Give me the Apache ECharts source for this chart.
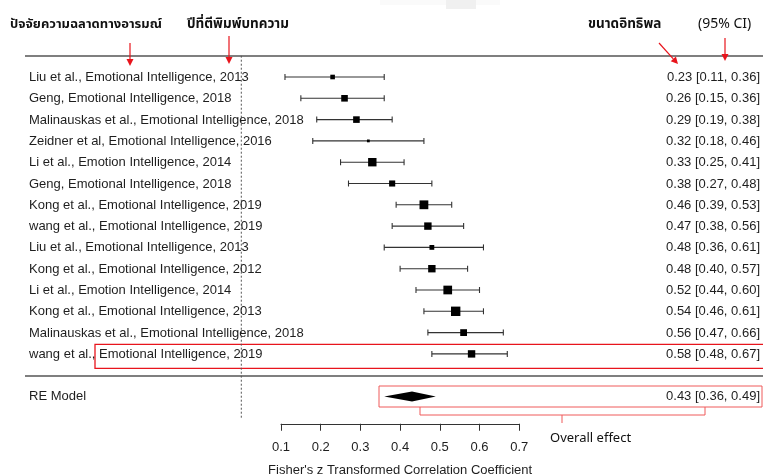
<!DOCTYPE html>
<html>
<head>
<meta charset="utf-8">
<script src="https://cdn.jsdelivr.net/npm/echarts@6/dist/echarts.min.js"></script>
<style>html,body{margin:0;padding:0;background:#fff;}#c{width:763px;height:474px;}</style>
</head>
<body>
<div id="c"></div>
<script>
// ---- data ----
const studies = [
  'Liu et al., Emotional Intelligence, 2013',
  'Geng, Emotional Intelligence, 2018',
  'Malinauskas et al., Emotional Intelligence, 2018',
  'Zeidner et al, Emotional Intelligence, 2016',
  'Li et al., Emotion Intelligence, 2014',
  'Geng, Emotional Intelligence, 2018',
  'Kong et al., Emotional Intelligence, 2019',
  'wang et al., Emotional Intelligence, 2019',
  'Liu et al., Emotional Intelligence, 2013',
  'Kong et al., Emotional Intelligence, 2012',
  'Li et al., Emotion Intelligence, 2014',
  'Kong et al., Emotional Intelligence, 2013',
  'Malinauskas et al., Emotional Intelligence, 2018',
  'wang et al., Emotional Intelligence, 2019'
];
const est = [0.23, 0.26, 0.29, 0.32, 0.33, 0.38, 0.46, 0.47, 0.48, 0.48, 0.52, 0.54, 0.56, 0.58];
const lo  = [0.11, 0.15, 0.19, 0.18, 0.25, 0.27, 0.39, 0.38, 0.36, 0.40, 0.44, 0.46, 0.47, 0.48];
const hi  = [0.36, 0.36, 0.38, 0.46, 0.41, 0.48, 0.53, 0.56, 0.61, 0.57, 0.60, 0.61, 0.66, 0.67];
const weights = [4.6, 6.6, 6.6, 2.8, 8.4, 6.1, 8.8, 7.4, 4.8, 7.4, 8.7, 9.4, 6.8, 7.4];
const pooledLabel = 'RE Model';
const pooledEst = [0.43];
const pooledLo = [0.36];
const pooledHi = [0.49];
const xTicks = [0.1, 0.2, 0.3, 0.4, 0.5, 0.6, 0.7];
const axisTitle = "Fisher's z Transformed Correlation Coefficient";

const fmt = v => v.toFixed(2);
const txtColor = '#1e1e1e';
const lineColor = '#333';
const FONT = 'Arial, "Liberation Sans", Helvetica, sans-serif';
const THAI = '"Noto Sans Thai", Tahoma, "Noto Sans", sans-serif';

const rows = studies.map((s, i) => [est[i], lo[i], hi[i], i, weights[i]]);
const pooledRow = 15;

function renderStudy(params, api) {
  const i = api.value(3);
  const pE = api.coord([api.value(0), i]);
  const pL = api.coord([api.value(1), i]);
  const pH = api.coord([api.value(2), i]);
  const s = api.value(4);
  const y = pE[1];
  const st = {stroke: lineColor, lineWidth: 1.1};
  return {
    type: 'group',
    children: [
      {type: 'line', shape: {x1: pL[0], y1: y, x2: pH[0], y2: y}, style: st},
      {type: 'line', shape: {x1: pL[0], y1: y - 3, x2: pL[0], y2: y + 3}, style: st},
      {type: 'line', shape: {x1: pH[0], y1: y - 3, x2: pH[0], y2: y + 3}, style: st},
      {type: 'rect', shape: {x: pE[0] - s / 2, y: y - s / 2, width: s, height: s}, style: {fill: '#000'}},
      {type: 'text', x: 29, y: y + 0.5, style: {text: studies[i], fill: txtColor, font: '13px ' + FONT, textVerticalAlign: 'middle', textAlign: 'left'}},
      {type: 'text', x: 760, y: y + 0.5, style: {text: fmt(est[i]) + ' [' + fmt(lo[i]) + ', ' + fmt(hi[i]) + ']', fill: txtColor, font: '13px ' + FONT, textVerticalAlign: 'middle', textAlign: 'right'}}
    ]
  };
}

function renderPooled(params, api) {
  const e = api.value(0), l = api.value(1), h = api.value(2);
  const pE = api.coord([e, pooledRow]);
  const pL = api.coord([l, pooledRow]);
  const pH = api.coord([h, pooledRow]);
  const y = pE[1];
  return {
    type: 'group',
    children: [
      {type: 'polygon', shape: {points: [[pL[0], y], [pE[0], y - 5], [pH[0], y], [pE[0], y + 5]]}, style: {fill: '#000'}},
      {type: 'text', x: 29, y: y, style: {text: pooledLabel, fill: txtColor, font: '13px ' + FONT, textVerticalAlign: 'middle'}},
      {type: 'text', x: 760, y: y, style: {text: fmt(e) + ' [' + fmt(l) + ', ' + fmt(h) + ']', fill: txtColor, font: '13px ' + FONT, textVerticalAlign: 'middle', textAlign: 'right'}}
    ]
  };
}

function arrow(x1, y1, x2, y2) {
  const ang = Math.atan2(y2 - y1, x2 - x1);
  const L = 7, W = 3.5;
  const bx = x2 - L * Math.cos(ang), by = y2 - L * Math.sin(ang);
  const nx = -Math.sin(ang), ny = Math.cos(ang);
  return [
    {type: 'line', shape: {x1: x1, y1: y1, x2: bx, y2: by}, style: {stroke: '#e8141c', lineWidth: 1.2}},
    {type: 'polygon', shape: {points: [[x2, y2], [bx + nx * W, by + ny * W], [bx - nx * W, by - ny * W]]}, style: {fill: '#e8141c'}}
  ];
}

const chart = echarts.init(document.getElementById('c'), null, {renderer: 'canvas'});
const option = {
  animation: false,
  backgroundColor: '#fff',
  grid: [
    {left: 241.3, right: 5.6, top: 55.7, height: 362.1},
    {left: 281.0, width: 238.2, top: 423.5, height: 1}
  ],
  xAxis: [
    {gridIndex: 0, type: 'value', min: 0, max: 1.3, show: false},
    {gridIndex: 1, type: 'value', min: xTicks[0], max: xTicks[xTicks.length - 1], interval: 0.1,
     axisLine: {lineStyle: {color: lineColor, width: 1}},
     axisTick: {length: 7, inside: false, lineStyle: {color: lineColor}},
     splitLine: {show: false},
     axisLabel: {margin: 17.5, color: txtColor, fontSize: 13, fontFamily: FONT, formatter: v => v.toFixed(1)},
     name: axisTitle, nameLocation: 'middle', nameGap: 40.5,
     nameTextStyle: {color: txtColor, fontSize: 13, fontFamily: FONT}}
  ],
  yAxis: [
    {gridIndex: 0, type: 'value', min: -1, max: 16, inverse: true, show: false},
    {gridIndex: 1, type: 'value', show: false}
  ],
  series: [
    {type: 'line', xAxisIndex: 0, yAxisIndex: 0, data: [[0, -1], [0, 16.23]], symbol: 'none',
     lineStyle: {color: '#555', width: 1, type: [2, 2]}, silent: true, z: 1},
    {type: 'custom', xAxisIndex: 0, yAxisIndex: 0, data: rows, renderItem: renderStudy, clip: false, z: 3},
    {type: 'custom', xAxisIndex: 0, yAxisIndex: 0, data: [[pooledEst[0], pooledLo[0], pooledHi[0]]], renderItem: renderPooled, clip: false, z: 3}
  ],
  graphic: [
    // faint smear at top
    {type: 'rect', shape: {x: 380, y: 0, width: 120, height: 5}, style: {fill: '#fafafa'}, silent: true},
    {type: 'rect', shape: {x: 446, y: 0, width: 30, height: 9}, style: {fill: '#f0f0f0'}, silent: true},
    // rules
    {type: 'line', shape: {x1: 25, y1: 56, x2: 763, y2: 56}, style: {stroke: '#555', lineWidth: 1.5}},
    {type: 'line', shape: {x1: 25, y1: 376, x2: 763, y2: 376}, style: {stroke: '#555', lineWidth: 1.5}},
    // headers
    {type: 'text', x: 10, y: 25, style: {text: 'ปัจจัยความฉลาดทางอารมณ์', font: 'bold 13px ' + THAI, fill: '#111', textVerticalAlign: 'middle'}},
    {type: 'text', x: 187, y: 25, style: {text: 'ปีที่ตีพิมพ์บทความ', font: 'bold 13.5px ' + THAI, fill: '#111', textVerticalAlign: 'middle'}},
    {type: 'text', x: 588, y: 25, style: {text: 'ขนาดอิทธิพล', font: 'bold 13.5px ' + THAI, fill: '#111', textVerticalAlign: 'middle'}},
    {type: 'text', x: 698, y: 25, style: {text: '(95% CI)', font: '14px ' + THAI, fill: '#111', textVerticalAlign: 'middle'}},
    // arrows
    ...arrow(130, 43, 130, 66),
    ...arrow(229, 36, 229, 64),
    ...arrow(659, 43, 678, 64),
    ...arrow(725, 38, 725, 61),
    // red boxes
    {type: 'rect', shape: {x: 95, y: 344.3, width: 670, height: 24}, style: {fill: 'none', stroke: '#e8141c', lineWidth: 1.3}},
    {type: 'rect', shape: {x: 379, y: 386, width: 383, height: 21}, style: {fill: 'none', stroke: '#ef5b5b', lineWidth: 1}},
    // bracket
    {type: 'polyline', shape: {points: [[420, 407], [420, 415], [705, 415], [705, 407]]}, style: {stroke: '#ef5b5b', lineWidth: 1, fill: 'none'}},
    {type: 'line', shape: {x1: 562, y1: 415, x2: 562, y2: 423}, style: {stroke: '#ef5b5b', lineWidth: 1}},
    {type: 'text', x: 550, y: 439, style: {text: 'Overall effect', font: '13px ' + THAI, fill: '#111', textVerticalAlign: 'middle'}}
  ]
};
chart.setOption(option);
</script>
</body>
</html>
